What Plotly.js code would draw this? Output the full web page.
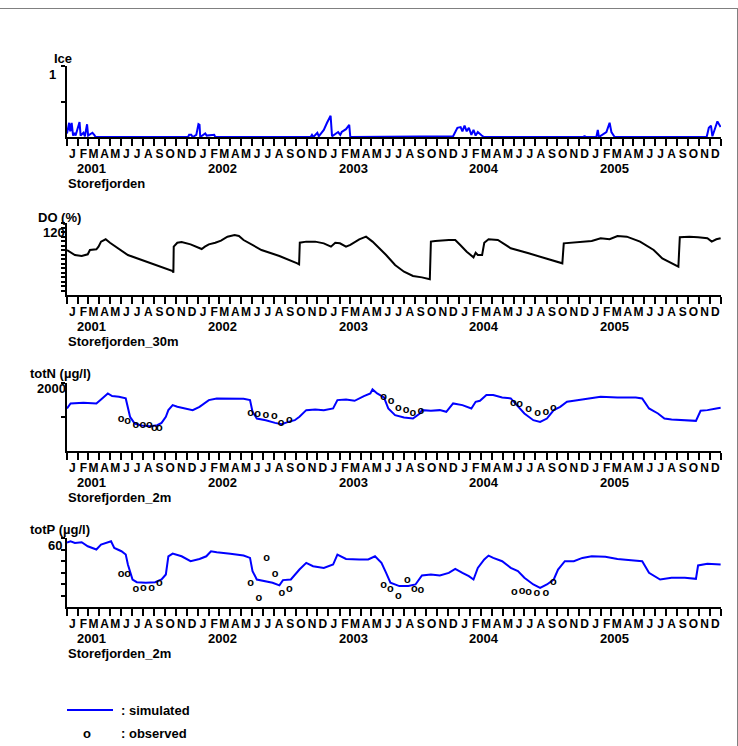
<!DOCTYPE html>
<html><head><meta charset="utf-8">
<script src="https://cdn.plot.ly/plotly-3.0.1.min.js"></script>
<style>html,body{margin:0;padding:0;background:#fff;overflow:hidden}#chart{width:738px;height:746px}</style>
</head><body><div id="chart"></div>
<script>
// ---------- data ----------
const monthLetters = ['J','F','M','A','M','J','J','A','S','O','N','D'];
const years = ['2001','2002','2003','2004','2005'];

const iceDates = ['2001-01-01','2001-01-03','2001-01-07','2001-01-10','2001-01-14','2001-01-18','2001-01-22','2001-01-25','2001-02-05','2001-02-08','2001-02-16','2001-02-20','2001-02-26','2001-03-01','2001-03-13','2001-03-18','2001-03-22',
 '2001-12-05','2001-12-08','2001-12-14','2001-12-18','2001-12-28','2002-01-03','2002-01-06','2002-01-08','2002-01-22','2002-01-26','2002-02-16','2002-02-19',
 '2002-11-12','2002-11-16','2002-11-20','2002-12-01','2002-12-05','2002-12-19','2002-12-28','2003-01-07','2003-01-11','2003-01-28','2003-02-03','2003-02-07','2003-02-19','2003-02-28','2003-03-03',
 '2003-12-15','2003-12-27','2004-01-05','2004-01-10','2004-01-16','2004-01-22','2004-01-28','2004-02-04','2004-02-10','2004-02-16','2004-02-22','2004-03-04','2004-03-10',
 '2004-12-14','2004-12-16','2004-12-18','2005-01-18','2005-01-22','2005-01-25','2005-02-15','2005-02-24','2005-03-01','2005-03-10',
 '2005-11-22','2005-11-28','2005-12-04','2005-12-08','2005-12-16','2005-12-22','2005-12-31'];
const iceValues = [0.05,0.1,0.2,0.08,0.2,0.02,0.06,0.02,0.21,0.02,0.06,0.01,0.18,0.02,0.06,0.03,0,
 0,0.03,0.03,0,0.03,0.18,0.17,0,0.05,0.02,0.03,0,
 0,0.03,0,0.06,0.01,0.1,0.2,0.3,0.01,0.07,0.03,0.07,0.11,0.17,0,
 0.01,0.13,0.14,0.08,0.16,0.08,0.13,0.03,0.1,0.02,0.07,0.02,0,
 0,0.02,0,0,0.1,0,0.07,0.2,0.07,0,
 0,0.13,0.16,0.01,0.13,0.22,0.14];

const doDates = ['2001-01-01','2001-01-23','2001-02-11','2001-02-28','2001-03-06','2001-03-24','2001-03-30','2001-04-06','2001-04-19','2001-05-01','2001-06-20','2001-08-21','2001-10-23','2001-10-25','2001-10-26','2001-11-05','2001-11-17','2001-12-12',
 '2002-01-12','2002-01-21','2002-02-01','2002-02-19','2002-03-07','2002-03-25','2002-04-14','2002-04-26','2002-05-09','2002-06-28','2002-08-17','2002-10-06','2002-10-11','2002-10-13','2002-10-31','2002-11-25','2002-12-19',
 '2003-01-08','2003-01-20','2003-02-02','2003-02-19','2003-03-03','2003-03-28','2003-04-16','2003-05-04','2003-06-11','2003-07-06','2003-07-31','2003-08-25','2003-09-19','2003-10-11','2003-10-14','2003-10-26','2003-12-03','2003-12-21',
 '2004-01-04','2004-01-22','2004-02-10','2004-02-16','2004-02-22','2004-03-05','2004-03-11','2004-03-23','2004-04-18','2004-05-24','2004-07-13','2004-09-02','2004-10-15','2004-10-19','2004-11-16','2004-12-10',
 '2005-01-05','2005-01-30','2005-02-24','2005-03-18','2005-04-13','2005-05-20','2005-06-27','2005-07-21','2005-08-16','2005-09-04','2005-09-08','2005-10-05','2005-10-29','2005-11-24','2005-12-06','2005-12-19','2005-12-31'];
const doValues = [90.0,84.4,83.3,85.2,90.0,90.7,93.7,99.3,101.9,98.1,84.4,75.2,66.7,64.8,93.7,98.1,98.9,96.3,
 91.1,93.7,96.3,98.1,100.4,104.8,106.7,105.6,101.1,90.0,83.3,75.2,74.1,98.1,99.3,99.3,97.4,
 93.7,98.1,97.4,93.7,95.6,101.9,104.8,99.3,84.4,73.3,65.9,61.1,59.6,57.4,99.3,100.0,101.1,101.1,
 95.6,88.1,81.9,87.0,84.4,84.4,98.1,101.9,101.1,91.9,86.3,80.7,75.2,97.4,98.1,98.9,
 100.0,103.0,101.9,105.6,104.8,99.3,90.0,80.7,75.2,71.5,104.1,104.8,104.1,103.0,99.3,101.9,103.0];

const totNDates = ['2001-01-01','2001-01-11','2001-02-16','2001-03-24','2001-04-06','2001-04-25','2001-05-07','2001-05-26','2001-06-14','2001-06-20','2001-06-26','2001-07-09','2001-07-27','2001-08-21','2001-09-10','2001-09-22','2001-10-04','2001-10-11','2001-10-23','2001-11-05','2001-11-29','2001-12-18',
 '2002-01-06','2002-02-01','2002-02-23','2002-03-20','2002-04-14','2002-05-09','2002-05-27','2002-06-03','2002-06-15','2002-07-10','2002-08-05','2002-08-23','2002-09-11','2002-09-29','2002-10-12','2002-10-31','2002-11-25','2002-12-19',
 '2003-01-14','2003-01-26','2003-02-19','2003-03-15','2003-04-10','2003-04-28','2003-05-04','2003-05-17','2003-06-05','2003-06-17','2003-07-06','2003-07-31','2003-08-25','2003-09-13','2003-09-19','2003-10-14','2003-11-08','2003-11-26','2003-12-15',
 '2004-01-10','2004-02-04','2004-02-16','2004-02-28','2004-03-17','2004-04-05','2004-04-30','2004-05-24','2004-06-13','2004-07-01','2004-07-26','2004-08-14','2004-09-02','2004-09-21','2004-10-09','2004-10-28','2004-11-16','2004-12-10',
 '2005-01-05','2005-01-30','2005-03-18','2005-05-08','2005-05-26','2005-06-14','2005-07-09','2005-07-27','2005-08-16','2005-09-10','2005-10-23','2005-11-05','2005-11-24','2005-12-19','2005-12-31'];
const totNValues = [1251,1399,1418,1399,1517,1694,1615,1596,1547,1300,1005,808,749,729,758,827,1005,1202,1350,1300,1251,1202,
 1300,1497,1546,1546,1527,1537,1497,1152,955,906,827,788,857,906,1005,1202,1221,1202,
 1251,1497,1517,1477,1615,1694,1812,1694,1576,1251,1054,985,955,1103,1202,1182,1202,1153,1399,
 1350,1251,1448,1477,1645,1645,1576,1546,1300,1103,906,857,955,1202,1300,1448,1477,1517,
 1576,1596,1576,1576,1546,1251,1103,955,926,906,887,1182,1202,1251,1271];

const totNObsDates = ['2001-06-01','2001-06-19','2001-07-12','2001-08-01','2001-08-19','2001-09-02','2001-09-16',
 '2002-05-29','2002-06-17','2002-07-10','2002-08-03','2002-08-22','2002-09-14',
 '2003-06-04','2003-06-25','2003-07-15','2003-08-06','2003-08-25','2003-09-16',
 '2004-05-31','2004-06-18','2004-07-13','2004-08-07','2004-08-30','2004-09-20'];
const totNObsValues = [928,877,759,759,759,662,662, 1105,1075,1055,1034,809,907, 1595,1477,1252,1202,1122,1173, 1418,1370,1223,1122,1152,1252];

const totPDates = ['2001-01-01','2001-01-11','2001-01-23','2001-02-11','2001-02-28','2001-03-24','2001-04-06','2001-04-25','2001-05-04','2001-05-13','2001-06-02','2001-06-14','2001-06-20','2001-07-03','2001-07-15','2001-08-09','2001-09-04','2001-09-22','2001-10-04','2001-10-11','2001-10-23','2001-11-17','2001-12-12',
 '2002-01-06','2002-01-25','2002-02-07','2002-02-23','2002-04-02','2002-05-09','2002-05-27','2002-06-03','2002-06-15','2002-07-10','2002-07-29','2002-08-17','2002-08-27','2002-09-18','2002-10-12','2002-10-31','2002-11-19','2002-12-19',
 '2003-01-14','2003-01-26','2003-02-19','2003-03-28','2003-04-22','2003-05-11','2003-05-29','2003-06-11','2003-06-23','2003-07-18','2003-08-12','2003-09-01','2003-09-19','2003-10-14','2003-11-08','2003-12-03','2003-12-21',
 '2004-01-10','2004-01-28','2004-02-10','2004-02-22','2004-03-11','2004-03-23','2004-04-05','2004-04-30','2004-05-24','2004-06-13','2004-07-01','2004-07-26','2004-08-14','2004-09-02','2004-09-21','2004-10-03','2004-10-22','2004-11-16','2004-12-10',
 '2005-01-05','2005-02-12','2005-03-18','2005-04-25','2005-05-26','2005-06-14','2005-07-15','2005-08-16','2005-09-22','2005-10-23','2005-10-29','2005-11-24','2005-12-19','2005-12-31'];
const totPValues = [56,57.1,55.7,56.3,52.8,50.0,54.2,56.3,57.1,51.4,48.5,45.6,36.9,23.9,21.6,21.1,21.6,23.9,28.3,44.1,46.4,44.1,39.8,
 41.8,44.1,48.5,47.6,46.4,44.7,42.7,31.2,23.9,22.5,21.1,18.8,23.4,23.9,32.6,38.4,35.5,34.0,
 36.9,45.6,41.8,41.3,41.3,44.1,38.4,29.7,21.1,18.2,18.2,19.6,27.4,28.3,27.4,29.7,33.2,
 29.7,26.8,23.9,34.0,41.3,44.7,42.7,39.8,34.0,31.2,25.4,19.6,16.7,19.6,23.9,32.6,39.8,39.8,42.7,
 44.1,43.6,41.8,40.7,39.8,29.7,23.9,25.4,25.4,24.5,36.1,37.5,37.5,36.9];

const totPObsDates = ['2001-06-01','2001-06-19','2001-07-12','2001-08-02','2001-08-25','2001-09-16',
 '2002-05-29','2002-06-21','2002-07-12','2002-08-05','2002-08-24','2002-09-14',
 '2003-06-04','2003-06-23','2003-07-15','2003-08-09','2003-08-29','2003-09-16',
 '2004-06-03','2004-06-25','2004-07-13','2004-08-05','2004-08-30','2004-09-20'];
const totPObsValues = [28.6,28.6,15.7,16.6,16.6,20.3, 20.9,7.9,42.5,28.1,12.3,15.1, 18.6,15.1,9.3,22.9,15.1,14.5, 12.8,13.7,12.8,11.7,11.7,21.4];

// ---------- layout helpers ----------
const W = 738, H = 746, X0 = 67, X1 = 721;
const FAM = 'Liberation Sans, Arial, sans-serif';
const FONT = {family: FAM, size: 12, color: '#000', weight: 'bold'};
const FONT13 = {family: FAM, size: 13, color: '#000', weight: 'bold'};
const OBSFONT = {family: FAM, size: 11, color: '#000', weight: 'bold'};
const BLUE = '#0000ff';
const fx = p => p / W;
const fy = p => 1 - p / H;

const panels = [
  {ax: '',  top: 66,  bottom: 137, range: [0, 1],    dtick: 0.5,  title: 'Ice',          titleX: 53, titleY: 58,  topLabel: '1',    labelR: 57, labelY: 75,  station: 'Storefjorden'},
  {ax: '2', top: 223, bottom: 295, range: [40, 120], dtick: 5,    title: 'DO (%)',       titleX: 37, titleY: 217, topLabel: '120',  labelR: 66, labelY: 232, station: 'Storefjorden_30m'},
  {ax: '3', top: 383, bottom: 451, range: [0, 2000], dtick: 1000, title: 'totN (µg/l)',  titleX: 29, titleY: 373, topLabel: '2000', labelR: 67, labelY: 388, station: 'Storefjorden_2m'},
  {ax: '4', top: 538, bottom: 607, range: [0, 60],   dtick: 10,   title: 'totP (µg/l)',  titleX: 29, titleY: 529, topLabel: '60',   labelR: 63, labelY: 545, station: 'Storefjorden_2m'}
];

const midMonths = [], monthText = [], monthStarts = [];
years.forEach(y => monthLetters.forEach((l, i) => {
  const mm = String(i + 1).padStart(2, '0');
  midMonths.push(`${y}-${mm}-16`);
  monthText.push(l);
  monthStarts.push(`${y}-${mm}-01`);
}));
monthStarts.push('2006-01-01');

const layout = {
  width: W, height: H, margin: {l: 0, r: 0, t: 0, b: 0},
  paper_bgcolor: '#fff', plot_bgcolor: 'rgba(0,0,0,0)',
  showlegend: false, font: FONT,
  annotations: [], shapes: []
};

panels.forEach(p => {
  const ya = p.ax ? 'y' + p.ax : 'y';
  const xa = p.ax ? 'x' + p.ax : 'x';
  const yticks = [];
  for (let v = p.range[0] + p.dtick; v <= p.range[1] + 1e-9; v += p.dtick) yticks.push(v);
  layout['xaxis' + p.ax] = {
    type: 'date', domain: [fx(X0), fx(X1)], range: ['2001-01-01', '2006-01-01'], anchor: ya,
    tickmode: 'array', tickvals: midMonths, ticktext: monthText,
    ticks: 'outside', ticklen: 5, tickcolor: 'rgba(0,0,0,0)', tickangle: 0,
    tickfont: FONT, showline: true, linecolor: '#000', linewidth: 2,
    showgrid: false, zeroline: false, fixedrange: true, layer: 'below traces',
    minor: {tickmode: 'array', tickvals: monthStarts, ticks: 'outside', ticklen: 7, tickwidth: 2, tickcolor: '#000', showgrid: false}
  };
  layout['yaxis' + p.ax] = {
    domain: [fy(p.bottom), fy(p.top)], range: p.range, anchor: xa,
    tickmode: 'array', tickvals: yticks, showticklabels: false,
    ticks: 'outside', ticklen: 4, tickwidth: 2, tickcolor: '#000',
    showline: true, linecolor: '#000', linewidth: 2,
    showgrid: false, zeroline: false, fixedrange: true
  };
  const ann = (x, y, text, xanchor, font, xref) => layout.annotations.push({
    xref: xref || 'paper', yref: 'paper', x: x, y: y, text: text, showarrow: false,
    xanchor: xanchor, yanchor: 'middle', font: font, borderpad: 0
  });
  ann(fx(p.titleX), fy(p.titleY), p.title, 'left', FONT13);
  ann(fx(p.labelR), fy(p.labelY), p.topLabel, 'right', FONT13);
  ann(fx(67), fy(p.bottom + 46), p.station, 'left', FONT13);
  years.forEach(y => ann(`${y}-03-11`, fy(p.bottom + 31), y, 'center', FONT13, xa));
});

// legend
layout.shapes.push({type: 'line', xref: 'paper', yref: 'paper', x0: fx(67), x1: fx(113), y0: fy(710), y1: fy(710), line: {color: BLUE, width: 2}});
[[fx(120), fy(710), ': simulated', 'left'], [fx(87), fy(733), 'o', 'center'], [fx(120), fy(733), ': observed', 'left']].forEach(a =>
  layout.annotations.push({xref: 'paper', yref: 'paper', x: a[0], y: a[1], text: a[2], xanchor: a[3], yanchor: 'middle', showarrow: false, font: FONT13, borderpad: 0}));
// frame
layout.shapes.push({type: 'line', xref: 'paper', yref: 'paper', x0: 0, x1: 1, y0: fy(8.5), y1: fy(8.5), line: {color: '#808080', width: 1}});
layout.shapes.push({type: 'line', xref: 'paper', yref: 'paper', x0: fx(737.5), x1: fx(737.5), y0: 0, y1: fy(8.5), line: {color: '#808080', width: 1}});

const line = (x, y, ax, color) => ({x: x, y: y, xaxis: 'x' + ax, yaxis: 'y' + ax, type: 'scatter', mode: 'lines', line: {color: color, width: 2}, hoverinfo: 'skip'});
const obs = (x, y, ax) => ({x: x, y: y, xaxis: 'x' + ax, yaxis: 'y' + ax, type: 'scatter', mode: 'text', text: x.map(() => 'o'), textposition: 'middle center', textfont: OBSFONT, cliponaxis: false, hoverinfo: 'skip'});

const data = [
  line(iceDates, iceValues, '', BLUE),
  line(doDates, doValues, '2', '#000'),
  line(totNDates, totNValues, '3', BLUE),
  obs(totNObsDates, totNObsValues, '3'),
  line(totPDates, totPValues, '4', BLUE),
  obs(totPObsDates, totPObsValues, '4')
];

Plotly.newPlot('chart', data, layout, {staticPlot: true, displayModeBar: false});
</script>
</body></html>
